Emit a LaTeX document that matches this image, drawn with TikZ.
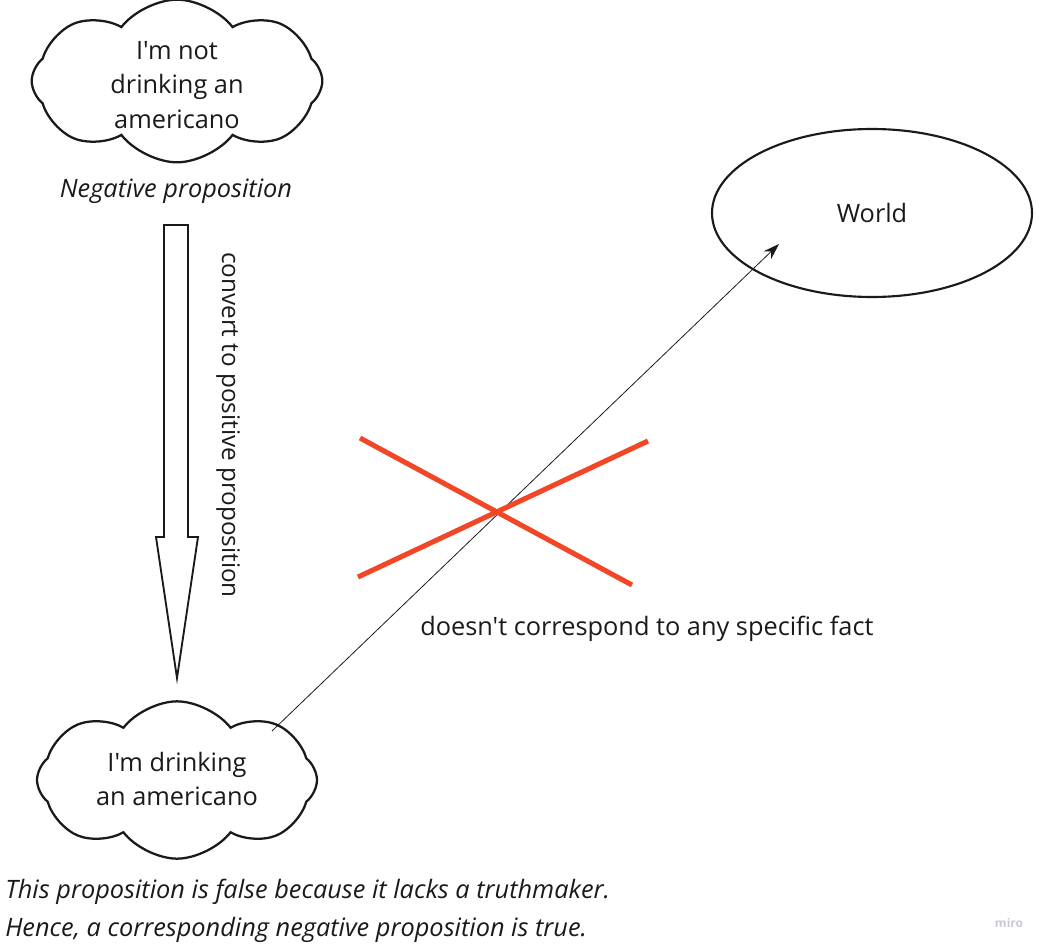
\documentclass[tikz,border=0pt]{standalone}
\usepackage{fontspec}
\setmainfont{Open Sans}[Ligatures=TeXOff]
\usetikzlibrary{shapes.symbols,shapes.geometric,arrows.meta}
\definecolor{ink}{HTML}{1A1A1A}
\definecolor{xred}{HTML}{F24726}
\definecolor{miro}{HTML}{C9C9D6}
\begin{document}
\begin{tikzpicture}[x=0.75pt,y=-0.75pt,
  every node/.style={text=ink},
  txt/.style={font=\fontsize{19}{26}\selectfont, align=center, inner sep=0pt},
  itxt/.style={font=\fontsize{19}{28.5}\selectfont\itshape, inner sep=0pt},
  cloudbox/.style={cloud, cloud puffs=8, cloud puff arc=105, draw=ink, line width=1.7pt, fill=white},
  worldbox/.style={ellipse, draw=ink, line width=1.6pt, minimum width=240pt, minimum height=126pt},
  blockarrow/.style={draw=ink, line width=1.4pt, fill=white, line join=miter},
  thin/.style={draw=ink, line width=0.6pt, -{Stealth[length=12pt,width=8pt]}},
  cross/.style={draw=xred, line width=3.8pt}
]
\useasboundingbox (0,0) rectangle (1049,952);
% top cloud
\node[cloudbox, minimum width=218pt, minimum height=122pt] (top) at (177,81) {};
\node[txt] (toptxt) at (177,85) {I'm not\\drinking an\\americano};
\node[itxt, anchor=base] (neg) at (176,198) {Negative proposition};
% block arrow
\draw[blockarrow] (164,225) -- (188,225) -- (188,537) -- (198,537) -- (177,678) -- (156,537) -- (164,537) -- cycle;
\node[txt, font=\fontsize{18.2}{24}\selectfont, rotate=-90] (conv) at (228,425) {convert to positive proposition};
% bottom cloud
\node[cloudbox, minimum width=210pt, minimum height=118pt] (bot) at (177,780) {};
\node[txt] (bottxt) at (177,779) {I'm drinking\\an americano};
% world
\node[worldbox] (world) at (872,213) {};
\node[txt] (worldtxt) at (872,213) {World};
% arrow
\coordinate (start) at (272,731);
\coordinate (tip) at (779,244);
\draw[thin] (start) -- (tip);
% red cross
\coordinate (a1) at (360,438); \coordinate (a2) at (632,585);
\coordinate (b1) at (358,577); \coordinate (b2) at (648,441);
\draw[cross] (a1) -- (a2);
\draw[cross] (b1) -- (b2);
\node[txt, anchor=base west] (fact) at (420,635) {doesn't correspond to any specific fact};
% bottom caption
\node[itxt, anchor=base west] (cap1) at (5,898) {This proposition is false because it lacks a truthmaker.};
\node[itxt, anchor=base west] (cap2) at (5,936) {Hence, a corresponding negative proposition is true.};
% watermark
\node[font=\fontsize{9}{10}\selectfont\bfseries, text=miro, inner sep=0pt] (wm) at (1009,923) {miro};
\end{tikzpicture}
\end{document}
